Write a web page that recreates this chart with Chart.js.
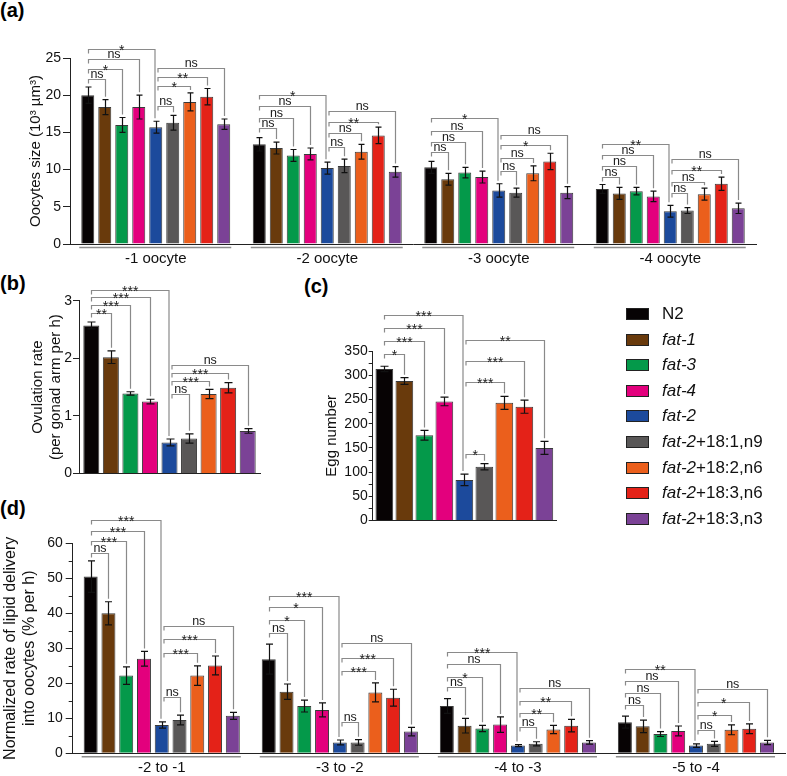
<!DOCTYPE html>
<html>
<head>
<meta charset="utf-8">
<script src="https://cdn.jsdelivr.net/npm/chart.js@4.4.1/dist/chart.umd.min.js"></script>
<style>
  body { margin: 0; background: #fff; font-family: 'Liberation Sans', Arial, sans-serif; }
  #fig { position: relative; width: 787px; height: 776px; overflow: hidden; }
  canvas { position: absolute; }
  .tag { position: absolute; font-weight: bold; font-size: 20px; line-height: 1; color: #000; }
  .lg { position: absolute; font-size: 17px; line-height: 20px; color: #111; white-space: nowrap; }
  .sw { position: absolute; width: 23px; height: 12px; box-sizing: border-box; border: 1px solid #222; }
</style>
</head>
<body>
<div id="fig">
  <div class="tag" style="left:0;top:0">(a)</div>
  <div class="tag" style="left:0;top:273px">(b)</div>
  <div class="tag" style="left:304px;top:276px">(c)</div>
  <div class="tag" style="left:0;top:498px">(d)</div>
  <canvas id="ca" width="787" height="280" style="left:0;top:0"></canvas>
  <canvas id="cb" width="300" height="215" style="left:0;top:268px"></canvas>
  <canvas id="cc" width="280" height="262" style="left:290px;top:268px"></canvas>
  <canvas id="cd" width="787" height="286" style="left:0;top:490px"></canvas>
  <div id="legend"></div>
</div>
<script>
// strains (one bar colour each)
const strains = ['N2', 'fat-1', 'fat-3', 'fat-4', 'fat-2', 'fat-2+18:1,n9', 'fat-2+18:2,n6', 'fat-2+18:3,n6', 'fat-2+18:3,n3'];
const barColors = ['#070304', '#693a0c', '#04994a', '#e3007d', '#1c4a9c', '#595757', '#eb5f1c', '#e42218', '#7b4296'];

// (a) oocyte size, rows = strains, columns = oocyte position
const oocyteCats = ['-1 oocyte', '-2 oocyte', '-3 oocyte', '-4 oocyte'];
const sizeMean = [
  [20.0, 13.4, 10.3, 7.4],
  [18.4, 12.9, 8.7, 6.8],
  [16.0, 11.9, 9.6, 7.1],
  [18.4, 12.1, 9.0, 6.4],
  [15.7, 10.2, 7.2, 4.4],
  [16.3, 10.5, 6.9, 4.5],
  [19.1, 12.4, 9.5, 6.7],
  [19.8, 14.6, 11.1, 8.1],
  [16.1, 9.7, 6.9, 4.8]
];
const sizeErr = [
  [1.1, 0.9, 0.8, 0.6],
  [1.0, 0.8, 0.8, 0.8],
  [1.0, 0.8, 0.7, 0.5],
  [1.6, 0.8, 0.8, 0.7],
  [0.8, 0.8, 0.9, 0.8],
  [1.0, 0.9, 0.6, 0.4],
  [1.2, 1.0, 1.0, 0.8],
  [1.1, 1.1, 1.1, 0.9],
  [0.7, 0.7, 0.8, 0.7]
];
// significance brackets: heights (data units) and labels, N2 vs others / fat-2 vs supplemented
const sizeN2Lvl = [[22.2, 23.5, 24.9, 26.2], [15.6, 17.0, 18.5, 20.0], [12.3, 13.7, 15.2, 16.9], [9.0, 10.5, 12.0, 13.5]];
const sizeN2Sig = [['ns', '*', 'ns', '*'], ['ns', 'ns', 'ns', '*'], ['ns', 'ns', 'ns', '*'], ['ns', 'ns', 'ns', '**']];
const sizeF2Lvl = [[18.5, 21.2, 22.5, 23.7], [13.1, 14.9, 16.4, 17.9], [9.8, 11.6, 13.3, 14.6], [6.8, 8.4, 10.0, 11.4]];
const sizeF2Sig = [['ns', '*', '**', 'ns'], ['ns', 'ns', '**', 'ns'], ['ns', 'ns', '*', 'ns'], ['ns', 'ns', '**', 'ns']];

// (b) ovulation rate
const ovuMean = [2.57, 2.02, 1.39, 1.25, 0.54, 0.61, 1.38, 1.49, 0.74];
const ovuErr = [0.06, 0.11, 0.03, 0.04, 0.06, 0.08, 0.08, 0.09, 0.04];
const ovuN2Lvl = [2.78, 2.92, 3.07, 3.19];
const ovuN2Sig = ['**', '***', '***', '***'];
const ovuF2Lvl = [1.38, 1.60, 1.75, 1.89];
const ovuF2Sig = ['ns', '***', '***', 'ns'];

// (c) egg number
const eggMean = [313, 288, 176, 246, 84, 111, 243, 235, 150];
const eggErr = [5.5, 7, 10, 9, 12, 6.5, 13.5, 13.5, 13.5];
const eggN2Lvl = [344.7, 370, 397, 423.3];
const eggN2Sig = ['*', '***', '***', '***'];
const eggF2Lvl = [136.7, 287, 329, 373];
const eggF2Sig = ['*', '***', '***', '**'];

// (d) lipid delivery rate
const rateCats = ['-2 to -1', '-3 to -2', '-4 to -3', '-5 to -4'];
const rateMean = [
  [50.5, 26.9, 13.5, 8.9],
  [40.0, 17.6, 7.9, 7.7],
  [22.2, 13.5, 7.1, 5.5],
  [27.0, 12.4, 8.2, 6.4],
  [8.1, 3.1, 2.2, 2.2],
  [9.5, 3.1, 2.7, 2.7],
  [22.2, 17.4, 6.8, 6.7],
  [25.1, 15.9, 7.9, 7.0],
  [10.7, 6.2, 3.1, 3.1]
];
const rateErr = [
  [4.5, 4.3, 2.1, 1.7],
  [3.3, 2.2, 2.1, 1.8],
  [2.5, 1.7, 0.9, 0.7],
  [2.1, 2.0, 2.2, 1.4],
  [0.9, 0.7, 0.3, 0.5],
  [1.4, 0.8, 0.6, 0.7],
  [2.8, 2.7, 1.2, 1.4],
  [2.7, 2.4, 1.8, 1.4],
  [1.0, 1.2, 0.5, 0.6]
];
const rateN2Lvl = [[57.3, 60.6, 63.5, 66.7], [34.3, 38.1, 41.8, 45.0], [18.9, 21.9, 25.4, 29.0], [13.8, 17.1, 20.6, 24.0]];
const rateN2Sig = [['ns', '***', '***', '***'], ['ns', '*', '*', '***'], ['ns', '*', 'ns', '***'], ['ns', 'ns', 'ns', '**']];
const rateF2Lvl = [[16.2, 28.8, 32.6, 36.5], [9.0, 23.5, 27.1, 31.4], [7.6, 11.4, 15.0, 18.7], [6.7, 11.0, 14.6, 18.3]];
const rateF2Sig = [['ns', '***', '***', 'ns'], ['ns', '***', '***', 'ns'], ['ns', '**', '**', 'ns'], ['ns', '*', '*', 'ns']];

const FONT = "'Liberation Sans', Arial, sans-serif";
Chart.defaults.font.family = FONT;
Chart.defaults.color = '#111';

// error bars, significance brackets, minor ticks, group underlines
function sigPlugin(o) {
  return {
    id: 'sig',
    afterDatasetsDraw(chart) {
      const ctx = chart.ctx, ys = chart.scales.y, area = chart.chartArea;
      const bar = (d, i) => chart.getDatasetMeta(d).data[i];
      const hi = (d, i) => ys.getPixelForValue(o.mean[d][i] + o.err[d][i]);
      ctx.save();

      if (o.minor) {
        ctx.strokeStyle = '#222'; ctx.lineWidth = 1;
        for (let v = o.minor; v < o.yMax; v += o.minor * 2) {
          const y = Math.round(ys.getPixelForValue(v)) + 0.5;
          ctx.beginPath(); ctx.moveTo(area.left - 4, y); ctx.lineTo(area.left, y); ctx.stroke();
        }
      }

      if (o.underline) {
        ctx.strokeStyle = '#8c8c8c'; ctx.lineWidth = 1.5;
        o.labels.forEach((l, i) => {
          const b0 = bar(0, i), b8 = bar(8, i);
          const y = area.bottom + 3.5;
          ctx.beginPath(); ctx.moveTo(b0.x - b0.width / 2 - 2, y); ctx.lineTo(b8.x + b8.width / 2 + 1, y); ctx.stroke();
        });
      }

      ctx.strokeStyle = '#111'; ctx.lineWidth = 1.2;
      strains.forEach((s, d) => o.labels.forEach((l, i) => {
        const x = Math.round(bar(d, i).x) + 0.5;
        const y1 = ys.getPixelForValue(o.mean[d][i] + o.err[d][i]);
        const y2 = ys.getPixelForValue(o.mean[d][i] - o.err[d][i]);
        ctx.beginPath();
        ctx.moveTo(x, y1); ctx.lineTo(x, y2);
        ctx.moveTo(x - o.cap, y1); ctx.lineTo(x + o.cap, y1);
        ctx.moveTo(x - o.cap, y2); ctx.lineTo(x + o.cap, y2);
        ctx.stroke();
      }));

      ctx.strokeStyle = '#8a8a8a'; ctx.lineWidth = 1.2;
      ctx.fillStyle = '#1a1a1a'; ctx.textAlign = 'center'; ctx.textBaseline = 'alphabetic';
      o.labels.forEach((l, i) => {
        const sets = [[0, [1, 2, 3, 4], o.n2Lvl[i], o.n2Sig[i]], [4, [5, 6, 7, 8], o.f2Lvl[i], o.f2Sig[i]]];
        sets.forEach(([src, tg, lv, sg]) => {
          tg.forEach((t, k) => {
            const y = Math.round(ys.getPixelForValue(lv[k])) + 0.5;
            const x1 = Math.round(bar(src, i).x) + (src === 4 ? 2 : 0.5);
            const x2 = Math.round(bar(t, i).x) + (t === 4 ? -1 : 0.5);
            const yEnd = hi(t, i) - 3;
            ctx.beginPath();
            ctx.moveTo(x1, y + 4); ctx.lineTo(x1, y); ctx.lineTo(x2, y); ctx.lineTo(x2, yEnd);
            ctx.stroke();
            const tx = (x1 + x2) / 2;
            if (sg[k] === 'ns') {
              ctx.font = '12.5px ' + FONT;
              ctx.fillText('ns', tx, y - 1.5);
            } else {
              ctx.font = '14px ' + FONT;
              ctx.fillText(sg[k], tx, y + 5);
            }
          });
        });
      });
      ctx.restore();
    }
  };
}

function buildChart(id, o) {
  const datasets = strains.map((s, d) => ({
    label: s,
    data: o.mean[d],
    backgroundColor: barColors[d],
    borderColor: '#3a3a3a',
    borderWidth: 1,
    categoryPercentage: o.catPct,
    barPercentage: o.barPct
  }));
  return new Chart(document.getElementById(id), {
    type: 'bar',
    data: { labels: o.labels, datasets },
    options: {
      responsive: false,
      animation: false,
      layout: { padding: o.pad },
      plugins: { legend: { display: false }, tooltip: { enabled: false } },
      scales: {
        x: {
          grid: { display: false, drawTicks: false },
          border: { display: true, color: '#222', width: 1 },
          ticks: { display: o.showX, padding: 6, font: { size: 15 }, color: '#111', maxRotation: 0 },
          afterFit: s => { s.height = o.xHeight; }
        },
        y: {
          min: 0, max: o.yMax,
          ticks: { stepSize: o.yStep, padding: o.tickPad, font: { size: 14 }, color: '#111', includeBounds: false },
          grid: { drawOnChartArea: false, drawTicks: true, tickLength: o.tickLen, color: '#222' },
          border: { display: true, color: '#222', width: 1 },
          title: { display: true, text: o.title, font: { size: o.titleSize || 15, lineHeight: 1.2 }, color: '#111', padding: o.titlePad },
          afterFit: s => { s.width = o.yWidth; }
        }
      }
    },
    plugins: [sigPlugin(o)]
  });
}

const one = v => v.map(x => [x]);

buildChart('ca', {
  labels: oocyteCats, mean: sizeMean, err: sizeErr,
  n2Lvl: sizeN2Lvl, n2Sig: sizeN2Sig, f2Lvl: sizeF2Lvl, f2Sig: sizeF2Sig,
  yMax: 25, yStep: 5, catPct: 0.892, barPct: 0.765, cap: 3,
  pad: { top: 58, left: 23, right: 31, bottom: 0 }, yWidth: 47, xHeight: 36,
  tickLen: 7, tickPad: 2, title: 'Oocytes size (10\u00B3 \u00B5m\u00B3)', titlePad: { top: 4, bottom: 4 },
  showX: true, underline: true
});

buildChart('cb', {
  labels: [''], mean: one(ovuMean), err: one(ovuErr),
  n2Lvl: [ovuN2Lvl], n2Sig: [ovuN2Sig], f2Lvl: [ovuF2Lvl], f2Sig: [ovuF2Sig],
  yMax: 3, yStep: 1, catPct: 0.972, barPct: 0.82, cap: 4,
  pad: { top: 32.7, left: 25, right: 40, bottom: 0 }, yWidth: 54, xHeight: 3.7,
  tickLen: 6, tickPad: 1, title: ['Ovulation rate', '(per gonad arm per h)'], titlePad: { top: 4, bottom: 4 },
  showX: false, underline: false
});

buildChart('cc', {
  labels: [''], mean: one(eggMean), err: one(eggErr),
  n2Lvl: [eggN2Lvl], n2Sig: [eggN2Sig], f2Lvl: [eggF2Lvl], f2Sig: [eggF2Sig],
  yMax: 350, yStep: 50, minor: 25, catPct: 0.982, barPct: 0.885, cap: 4,
  pad: { top: 83, left: 29, right: 14, bottom: 0 }, yWidth: 53.7, xHeight: 5,
  tickLen: 4, tickPad: 1, title: 'Egg number', titlePad: { top: 4, bottom: 4 },
  showX: false, underline: false
});

buildChart('cd', {
  labels: rateCats, mean: rateMean, err: rateErr,
  n2Lvl: rateN2Lvl, n2Sig: rateN2Sig, f2Lvl: rateF2Lvl, f2Sig: rateF2Sig,
  yMax: 60, yStep: 10, minor: 5, catPct: 0.898, barPct: 0.787, cap: 3.5,
  pad: { top: 53.3, left: 1, right: 2, bottom: 0 }, yWidth: 71.7, xHeight: 22.7,
  tickLen: 7, tickPad: 3, title: ['Normalized rate of lipid delivery', 'into oocytes (% per h)'], titleSize: 16, titlePad: { top: 0, bottom: 0 },
  showX: true, underline: true
});

// legend (strain names in italics where they are gene names)
const legend = document.getElementById('legend');
strains.forEach((s, k) => {
  const cy = 314 + k * 25.6;
  const sw = document.createElement('div');
  sw.className = 'sw';
  sw.style.left = '626px';
  sw.style.top = (cy - 6) + 'px';
  sw.style.background = barColors[k];
  legend.appendChild(sw);
  const tx = document.createElement('div');
  tx.className = 'lg';
  tx.style.left = '662px';
  tx.style.top = (cy - 10) + 'px';
  if (s.startsWith('fat')) {
    const parts = s.split('+');
    tx.innerHTML = '<i>' + parts[0] + '</i>' + (parts.length > 1 ? '+' + parts.slice(1).join('+') : '');
  } else {
    tx.textContent = s;
  }
  legend.appendChild(tx);
});
</script>
</body>
</html>
